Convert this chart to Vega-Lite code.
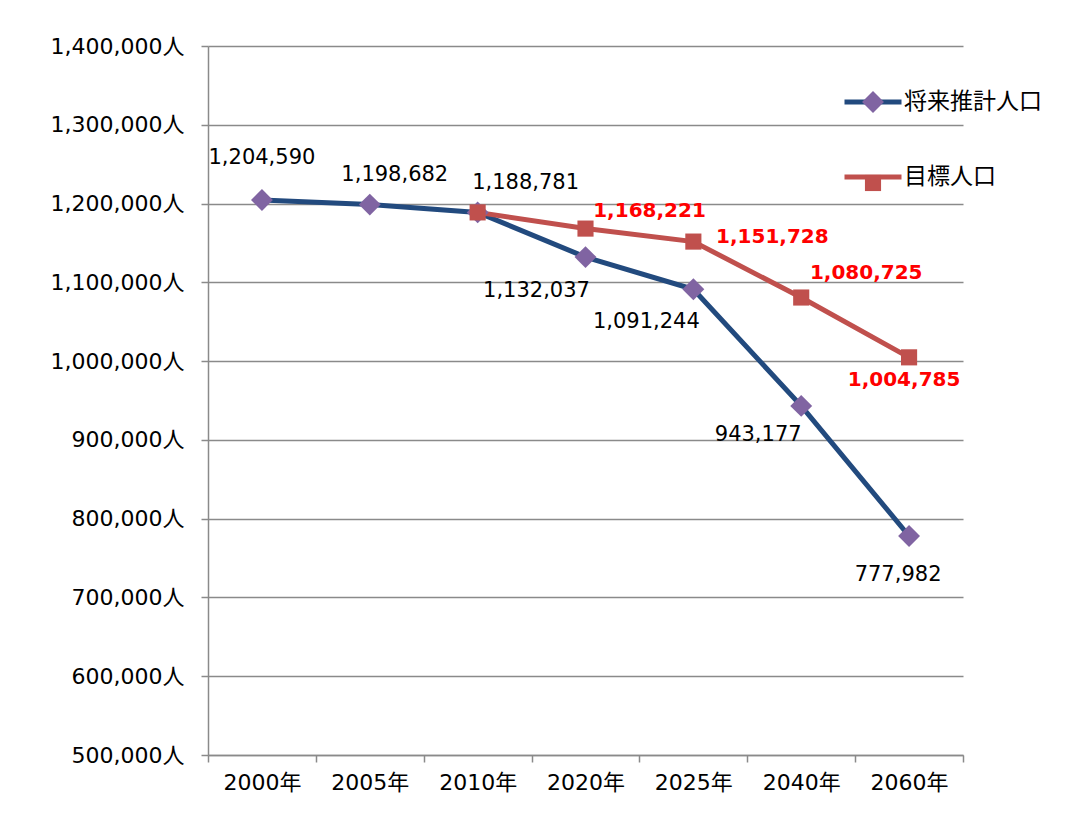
{
  "$schema": "https://vega.github.io/schema/vega-lite/v6.json",
  "width": 755,
  "height": 709,
  "autosize": "none",
  "padding": {"left": 208, "top": 46, "right": 123, "bottom": 81},
  "background": "white",
  "config": {
    "view": {"stroke": null},
    "font": "DejaVu Sans, Noto Sans CJK JP",
    "axis": {"labelFont": "DejaVu Sans, Noto Sans CJK JP", "labelColor": "#000000"},
    "legend": {"labelFont": "Noto Sans CJK JP"}
  },
  "data": {
    "values": [
      {"series": "将来推計人口", "year": "2000年", "value": 1204590},
      {"series": "将来推計人口", "year": "2005年", "value": 1198682},
      {"series": "将来推計人口", "year": "2010年", "value": 1188781},
      {"series": "将来推計人口", "year": "2020年", "value": 1132037},
      {"series": "将来推計人口", "year": "2025年", "value": 1091244},
      {"series": "将来推計人口", "year": "2040年", "value": 943177},
      {"series": "将来推計人口", "year": "2060年", "value": 777982},
      {"series": "目標人口", "year": "2010年", "value": 1188781},
      {"series": "目標人口", "year": "2020年", "value": 1168221},
      {"series": "目標人口", "year": "2025年", "value": 1151728},
      {"series": "目標人口", "year": "2040年", "value": 1080725},
      {"series": "目標人口", "year": "2060年", "value": 1004785}
    ]
  },
  "encoding": {
    "x": {
      "field": "year", "type": "nominal",
      "scale": {"domain": ["2000年", "2005年", "2010年", "2020年", "2025年", "2040年", "2060年"], "paddingInner": 0, "paddingOuter": 0},
      "axis": {"title": null, "labelAngle": 0, "tickBand": "extent", "labelFontSize": 22, "labelPadding": 10, "domainColor": "#8a8a8a", "domainWidth": 1.5, "tickColor": "#8a8a8a", "tickWidth": 1.5, "tickSize": 7, "grid": false}
    },
    "y": {
      "field": "value", "type": "quantitative",
      "scale": {"domain": [500000, 1400000], "nice": false, "zero": false},
      "axis": {"title": null, "values": [500000, 600000, 700000, 800000, 900000, 1000000, 1100000, 1200000, 1300000, 1400000], "labelExpr": "format(datum.value, ',') + '人'", "labelFontSize": 22, "labelPadding": 17, "domainColor": "#8a8a8a", "domainWidth": 1.5, "tickColor": "#8a8a8a", "tickWidth": 1.5, "tickSize": 7, "grid": true, "gridColor": "#8a8a8a", "gridWidth": 1.5}
    }
  },
  "layer": [
    {
      "mark": {"type": "line", "strokeWidth": 5},
      "encoding": {
        "color": {
          "field": "series", "type": "nominal",
          "scale": {"domain": ["将来推計人口", "目標人口"], "range": ["#224A7E", "#C0504D"]},
          "legend": {"orient": "none", "legendX": 634, "legendY": 25, "title": null, "symbolType": "stroke", "symbolStrokeWidth": 5, "symbolSize": 3249, "labelFontSize": 23, "labelColor": "#000000", "labelOffset": 0, "rowPadding": 32, "padding": 0}
        }
      }
    },
    {
      "mark": {"type": "point", "filled": true, "opacity": 1, "strokeWidth": 0},
      "encoding": {
        "fill": {"field": "series", "type": "nominal", "scale": {"range": ["#8064A2", "#C0504D"]},
          "legend": {"orient": "none", "legendX": 653, "legendY": 44, "title": null, "labelFontSize": 22, "labelExpr": "''", "rowPadding": 55, "padding": 0}},
        "shape": {"field": "series", "type": "nominal", "scale": {"range": ["diamond", "square"]},
          "legend": {"orient": "none", "legendX": 653, "legendY": 44, "title": null, "labelFontSize": 22, "labelExpr": "''", "rowPadding": 55, "padding": 0}},
        "size": {"field": "series", "type": "nominal", "scale": {"range": [480, 260]},
          "legend": {"orient": "none", "legendX": 653, "legendY": 44, "title": null, "labelFontSize": 22, "labelExpr": "''", "rowPadding": 55, "padding": 0}}
      }
    },
    {"transform": [{"filter": "datum.series === '将来推計人口' && datum.year === '2000年'"}],
     "mark": {"type": "text", "dx": 0, "dy": -42, "fontSize": 21, "color": "#000000"},
     "encoding": {"text": {"field": "value", "type": "quantitative", "format": ","}}},
    {"transform": [{"filter": "datum.series === '将来推計人口' && datum.year === '2005年'"}],
     "mark": {"type": "text", "dx": 25, "dy": -30, "fontSize": 21, "color": "#000000"},
     "encoding": {"text": {"field": "value", "type": "quantitative", "format": ","}}},
    {"transform": [{"filter": "datum.series === '将来推計人口' && datum.year === '2010年'"}],
     "mark": {"type": "text", "dx": 48, "dy": -29, "fontSize": 21, "color": "#000000"},
     "encoding": {"text": {"field": "value", "type": "quantitative", "format": ","}}},
    {"transform": [{"filter": "datum.series === '将来推計人口' && datum.year === '2020年'"}],
     "mark": {"type": "text", "dx": -49, "dy": 34, "fontSize": 21, "color": "#000000"},
     "encoding": {"text": {"field": "value", "type": "quantitative", "format": ","}}},
    {"transform": [{"filter": "datum.series === '将来推計人口' && datum.year === '2025年'"}],
     "mark": {"type": "text", "dx": -47, "dy": 33, "fontSize": 21, "color": "#000000"},
     "encoding": {"text": {"field": "value", "type": "quantitative", "format": ","}}},
    {"transform": [{"filter": "datum.series === '将来推計人口' && datum.year === '2040年'"}],
     "mark": {"type": "text", "dx": -43, "dy": 29, "fontSize": 21, "color": "#000000"},
     "encoding": {"text": {"field": "value", "type": "quantitative", "format": ","}}},
    {"transform": [{"filter": "datum.series === '将来推計人口' && datum.year === '2060年'"}],
     "mark": {"type": "text", "dx": -11, "dy": 39, "fontSize": 21, "color": "#000000"},
     "encoding": {"text": {"field": "value", "type": "quantitative", "format": ","}}},
    {"transform": [{"filter": "datum.series === '目標人口' && datum.year === '2020年'"}],
     "mark": {"type": "text", "dx": 64, "dy": -18, "fontSize": 20, "fontWeight": "bold", "color": "#FF0000"},
     "encoding": {"text": {"field": "value", "type": "quantitative", "format": ","}}},
    {"transform": [{"filter": "datum.series === '目標人口' && datum.year === '2025年'"}],
     "mark": {"type": "text", "dx": 79, "dy": -5, "fontSize": 20, "fontWeight": "bold", "color": "#FF0000"},
     "encoding": {"text": {"field": "value", "type": "quantitative", "format": ","}}},
    {"transform": [{"filter": "datum.series === '目標人口' && datum.year === '2040年'"}],
     "mark": {"type": "text", "dx": 65, "dy": -25, "fontSize": 20, "fontWeight": "bold", "color": "#FF0000"},
     "encoding": {"text": {"field": "value", "type": "quantitative", "format": ","}}},
    {"transform": [{"filter": "datum.series === '目標人口' && datum.year === '2060年'"}],
     "mark": {"type": "text", "dx": -5, "dy": 23, "fontSize": 20, "fontWeight": "bold", "color": "#FF0000"},
     "encoding": {"text": {"field": "value", "type": "quantitative", "format": ","}}}
  ]
}
